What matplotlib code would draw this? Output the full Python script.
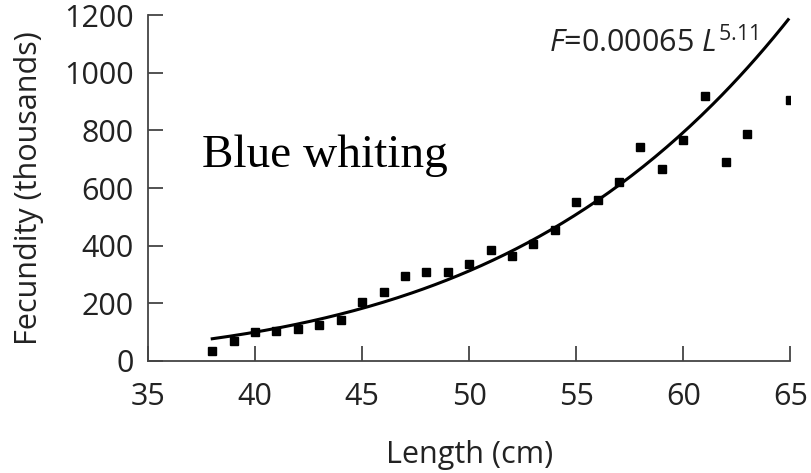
import numpy as np
import matplotlib
matplotlib.use("Agg")
import matplotlib.pyplot as plt

plt.rcParams['font.family'] = ['Open Sans', 'DejaVu Sans']
plt.rcParams['mathtext.fontset'] = 'custom'
plt.rcParams['mathtext.rm'] = 'Open Sans'
plt.rcParams['mathtext.it'] = 'Open Sans:italic'

length_cm = [38, 39, 40, 41, 42, 43, 44, 45, 46, 47, 48, 49, 50, 51, 52,
             53, 54, 55, 56, 57, 58, 59, 60, 61, 62, 63, 65]
fecundity = [35, 70, 100, 104, 112, 123, 143, 204, 238, 293, 308, 308, 337,
             386, 363, 407, 456, 551, 560, 621, 743, 667, 768, 920, 690, 786, 907]

# fitted curve F = 0.00065 L^5.11 (eggs -> thousands)
coef = 0.00065
expo = 5.11
fit_L = np.linspace(38, 64.9, 200)
fit_F = coef * fit_L ** expo / 1000

xticks = [35, 40, 45, 50, 55, 60, 65]
yticks = [0, 200, 400, 600, 800, 1000, 1200]

fig = plt.figure(figsize=(8.11, 4.73), dpi=100)
ax = fig.add_axes([0.1825, 0.237, 0.792, 0.731])

ax.plot(fit_L, fit_F, color='black', lw=2.2, zorder=2, clip_on=False)
ax.plot(length_cm, fecundity, 's', color='black', ms=6, zorder=3)

ax.set_xlim(35, 65)
ax.set_ylim(0, 1200)
ax.set_xticks(xticks)
ax.set_yticks(yticks)

for s in ['top', 'right']:
    ax.spines[s].set_visible(False)
for s in ['left', 'bottom']:
    ax.spines[s].set_color('#444444')
    ax.spines[s].set_linewidth(1.3)
ax.tick_params(direction='in', length=11, width=1.3, color='#444444',
               labelsize=22, labelcolor='#222222')
ax.tick_params(axis='y', pad=10.5)
ax.tick_params(axis='x', pad=15)

ax.set_xlabel('Length (cm)', fontsize=22, color='#222222', labelpad=20)
ax.set_ylabel('Fecundity (thousands)', fontsize=22, color='#222222', labelpad=14)

ax.text(37.5, 673, 'Blue whiting', family='Liberation Serif', fontsize=34,
        va='baseline', ha='left')
ax.text(63.5, 1072, r'$F$=0.00065 $L^{5.11}$', fontsize=22, color='#222222',
        va='baseline', ha='right')

fig.savefig('out.png', dpi=100)
